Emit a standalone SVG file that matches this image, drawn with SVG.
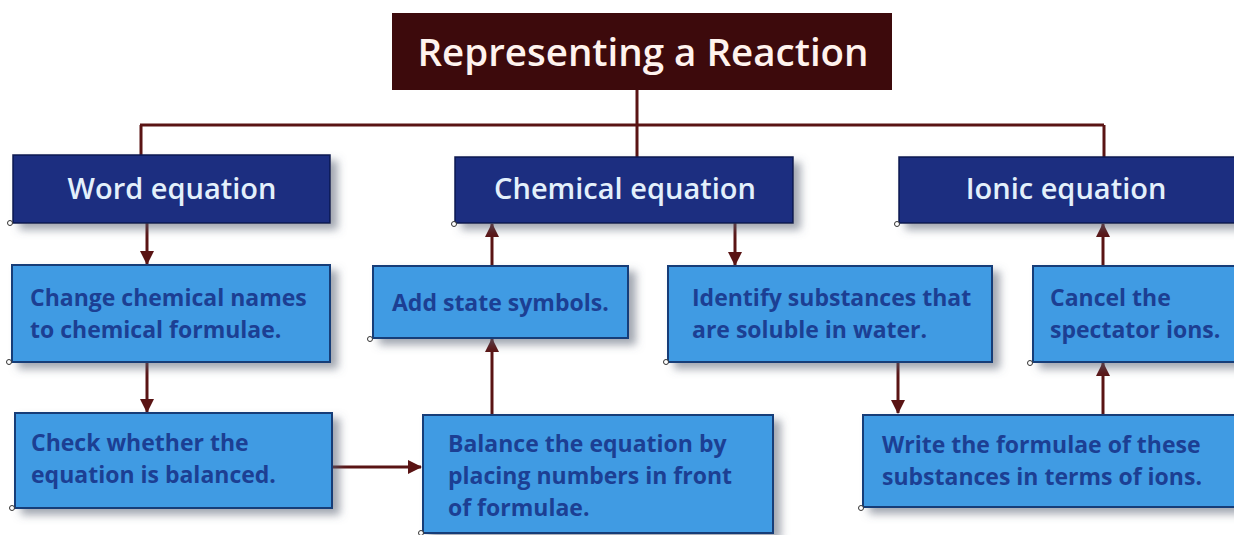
<svg xmlns="http://www.w3.org/2000/svg" width="1234" height="535" viewBox="0 0 1234 535">
<defs>
<filter id="sh" x="-5%" y="-10%" width="115%" height="135%">
<feDropShadow dx="7" dy="6" stdDeviation="4" flood-color="#556070" flood-opacity="0.55"/>
</filter>
<marker id="ah2" markerWidth="14" markerHeight="14" refX="13" refY="7" orient="auto" markerUnits="userSpaceOnUse" viewBox="0 0 14 14">
<path d="M0,0 L14,7 L0,14 Z" fill="#5a1414"/>
</marker>
</defs>
<style>
.title{fill:#3d0a0c}
.title-t{font-family:"Open Sans","Liberation Sans",sans-serif;font-weight:600;font-size:38.5px;fill:#fff3ee}
.head{fill:#1d2f80;stroke:#0e1a50;stroke-width:1.5}
.head-t{font-family:"Open Sans","Liberation Sans",sans-serif;font-weight:600;font-size:29px;fill:#e3f0fb}
.step{fill:#3f9be3;stroke:#173c78;stroke-width:2}
.step-t{font-family:"Open Sans","Liberation Sans",sans-serif;font-weight:700;font-size:23px;fill:#1c3f93}
.conn{stroke:#5a1414;stroke-width:3;fill:none}
.dot{fill:#fff;stroke:#333;stroke-width:1}
</style>
<rect width="1234" height="535" fill="#ffffff"/>

<g id="connectors">
<path class="conn" d="M637,90 V125 M140,125 H1104 M141,125 V156 M637,125 V158 M1104,125 V158"/>
<path class="conn" d="M147,223 V264" marker-end="url(#ah2)"/>
<path class="conn" d="M147,362 V412" marker-end="url(#ah2)"/>
<path class="conn" d="M333,467 H421" marker-end="url(#ah2)"/>
<path class="conn" d="M492,415 V339" marker-end="url(#ah2)"/>
<path class="conn" d="M492,266 V224" marker-end="url(#ah2)"/>
<path class="conn" d="M735,223 V265" marker-end="url(#ah2)"/>
<path class="conn" d="M898,362 V413" marker-end="url(#ah2)"/>
<path class="conn" d="M1103,415 V363" marker-end="url(#ah2)"/>
<path class="conn" d="M1103,266 V224" marker-end="url(#ah2)"/>
</g>

<g id="title">
<rect class="title" x="392" y="13" width="500" height="77"/>
<text class="title-t" x="643" y="66" text-anchor="middle">Representing a Reaction</text>
</g>

<g id="word-equation">
<rect class="head" x="13" y="155" width="317" height="68" filter="url(#sh)"/>
<text class="head-t" x="172" y="199" text-anchor="middle">Word equation</text>
<circle class="dot" cx="10" cy="223" r="2.5"/>
</g>

<g id="chemical-equation">
<rect class="head" x="455" y="157" width="338" height="66" filter="url(#sh)"/>
<text class="head-t" x="625" y="199" text-anchor="middle">Chemical equation</text>
<circle class="dot" cx="454" cy="224" r="2.5"/>
</g>

<g id="ionic-equation">
<rect class="head" x="899" y="157" width="345" height="66" filter="url(#sh)"/>
<text class="head-t" x="1066" y="199" text-anchor="middle">Ionic equation</text>
<circle class="dot" cx="897" cy="224" r="2.5"/>
</g>

<g id="change-names">
<rect class="step" x="12" y="265" width="318" height="97" filter="url(#sh)"/>
<text class="step-t" x="30" y="306">Change chemical names</text>
<text class="step-t" x="30" y="338">to chemical formulae.</text>
<circle class="dot" cx="9" cy="362" r="2.5"/>
</g>

<g id="check-balanced">
<rect class="step" x="15" y="413" width="317" height="95" filter="url(#sh)"/>
<text class="step-t" x="31" y="451">Check whether the</text>
<text class="step-t" x="31" y="483">equation is balanced.</text>
<circle class="dot" cx="12" cy="508" r="2.5"/>
</g>

<g id="balance-equation">
<rect class="step" x="423" y="415" width="350" height="118" filter="url(#sh)"/>
<text class="step-t" x="448" y="452">Balance the equation by</text>
<text class="step-t" x="448" y="484">placing numbers in front</text>
<text class="step-t" x="448" y="516">of formulae.</text>
<circle class="dot" cx="421" cy="533" r="2.5"/>
</g>

<g id="add-state">
<rect class="step" x="373" y="266" width="255" height="72" filter="url(#sh)"/>
<text class="step-t" x="392" y="311">Add state symbols.</text>
<circle class="dot" cx="370" cy="339" r="2.5"/>
</g>

<g id="identify-soluble">
<rect class="step" x="668" y="266" width="324" height="96" filter="url(#sh)"/>
<text class="step-t" x="692" y="306">Identify substances that</text>
<text class="step-t" x="692" y="338">are soluble in water.</text>
<circle class="dot" cx="666" cy="362" r="2.5"/>
</g>

<g id="write-ions">
<rect class="step" x="863" y="415" width="381" height="92" filter="url(#sh)"/>
<text class="step-t" x="882" y="453">Write the formulae of these</text>
<text class="step-t" x="882" y="485">substances in terms of ions.</text>
<circle class="dot" cx="861" cy="508" r="2.5"/>
</g>

<g id="cancel-spectator">
<rect class="step" x="1033" y="266" width="211" height="96" filter="url(#sh)"/>
<text class="step-t" x="1050" y="306">Cancel the</text>
<text class="step-t" x="1050" y="338">spectator ions.</text>
<circle class="dot" cx="1030" cy="363" r="2.5"/>
</g>
</svg>
